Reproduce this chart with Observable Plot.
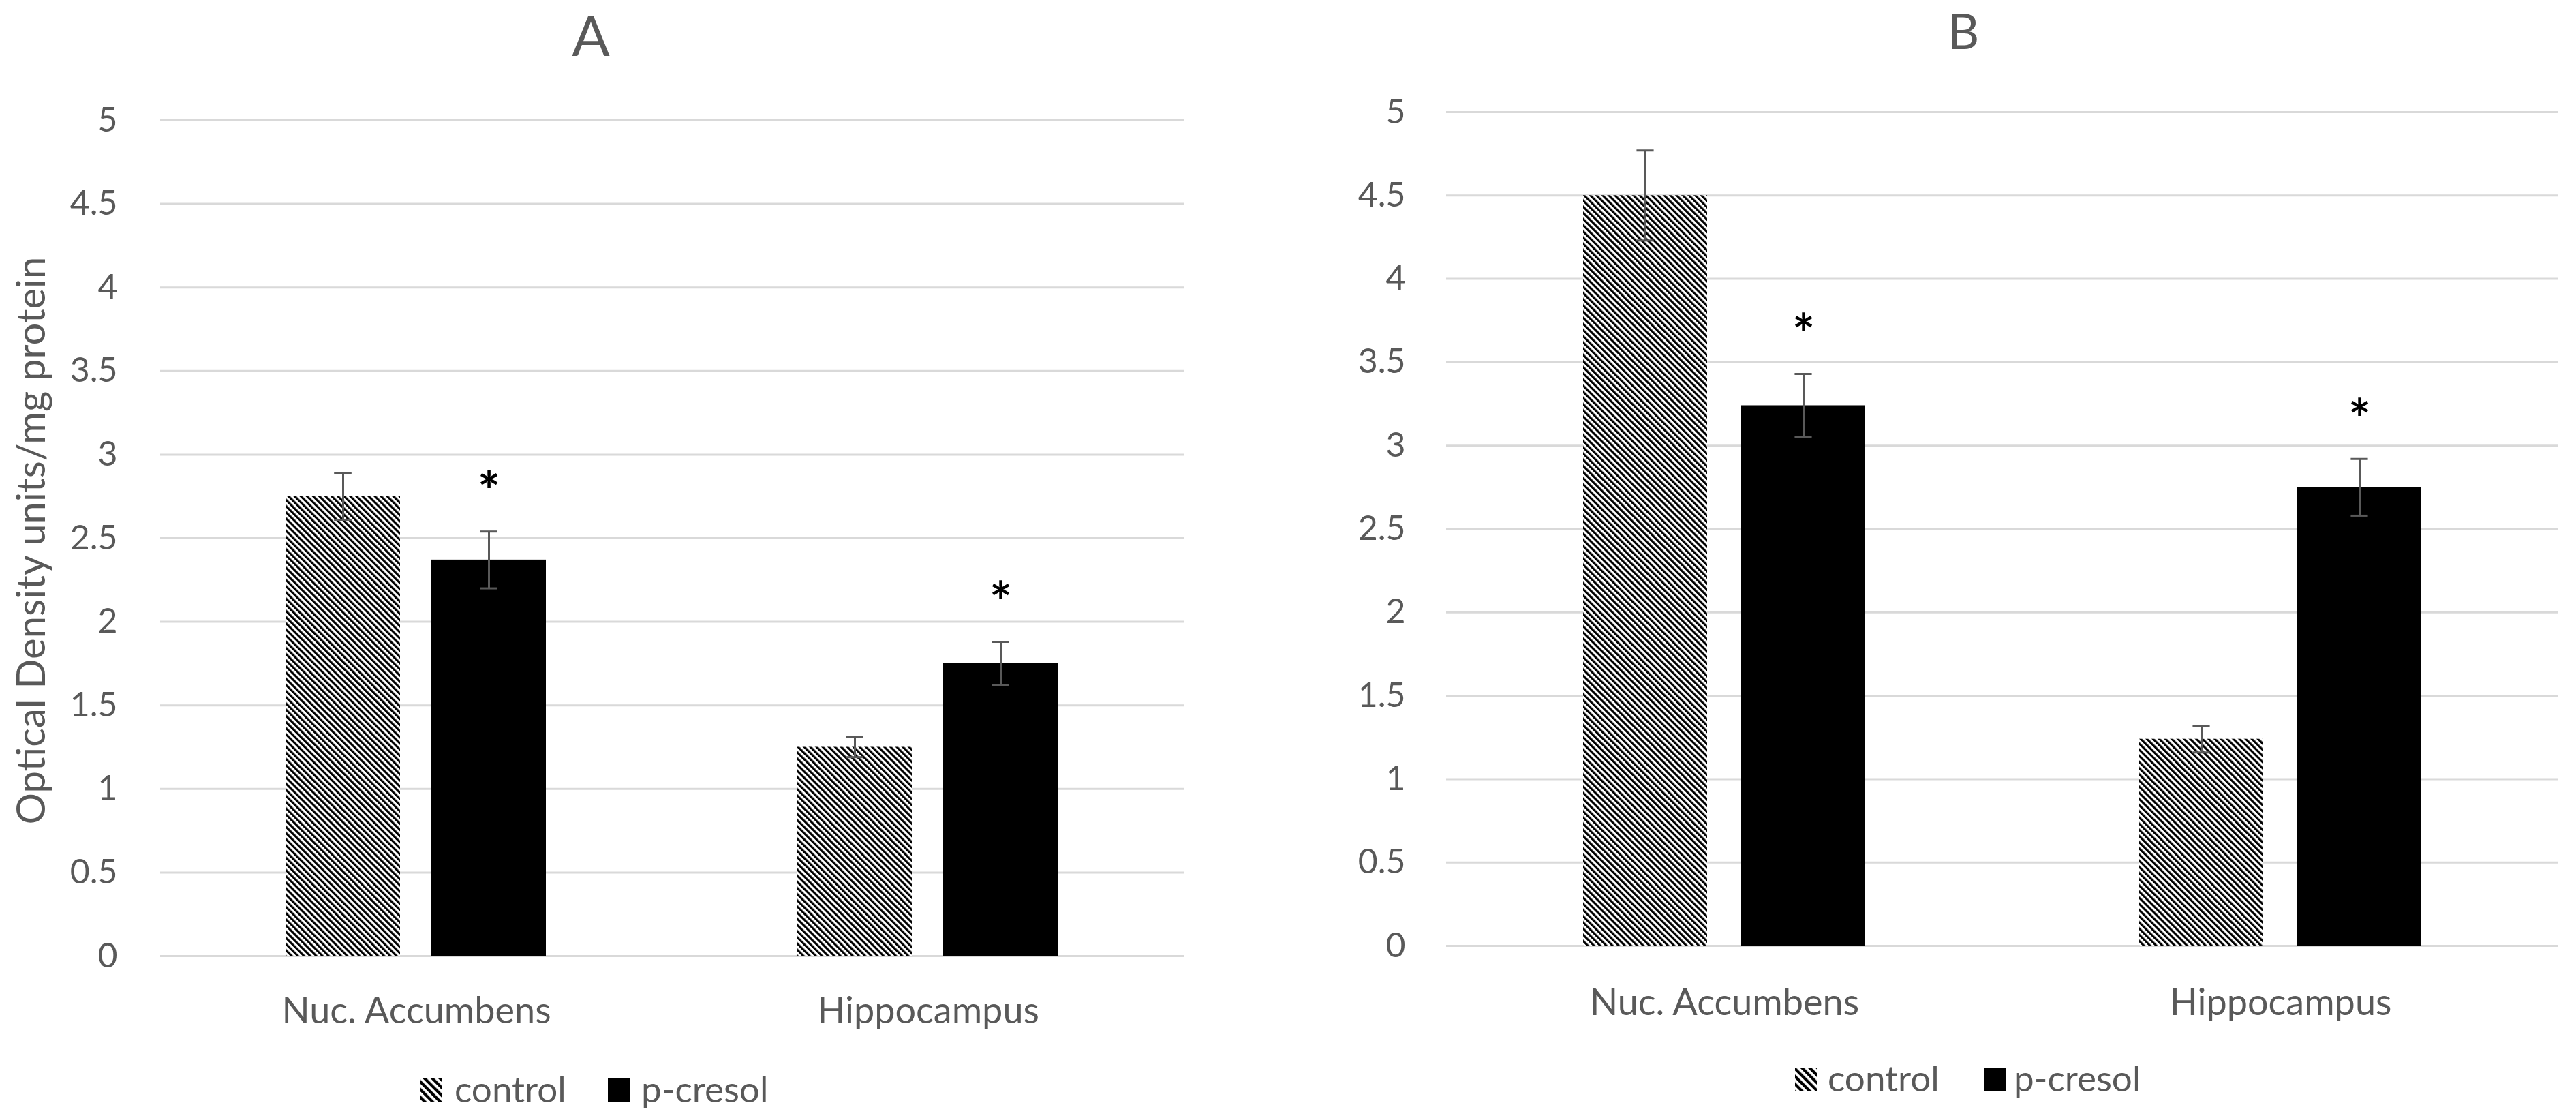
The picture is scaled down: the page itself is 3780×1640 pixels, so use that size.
<!DOCTYPE html>
<html><head><meta charset="utf-8">
<script src="https://cdn.jsdelivr.net/npm/d3@7"></script>
<script src="https://cdn.jsdelivr.net/npm/@observablehq/plot@0.6"></script>
<style>
html,body{margin:0;padding:0;background:#fff;}
#page{position:relative;width:3780px;height:1640px;overflow:hidden;background:#fff;font-family:Lato,sans-serif;}
#page > svg{position:absolute;top:0;}
</style></head><body>
<svg width="0" height="0" style="position:absolute">
<defs>
<pattern id="hatch" patternUnits="userSpaceOnUse" width="6.4" height="6.4" patternTransform="rotate(-45)">
<rect width="6.4" height="6.4" fill="#fff"/><rect width="3.2" height="6.4" fill="#000"/>
</pattern>
<pattern id="hatchLegend" patternUnits="userSpaceOnUse" width="8" height="8" patternTransform="rotate(-45)">
<rect width="8" height="8" fill="#fff"/><rect width="4.2" height="8" fill="#000"/>
</pattern></defs></svg>
<div id="page"></div>
<script>
// ---- data ----
const categories = ["Nuc. Accumbens", "Hippocampus"];
const seriesNames = ["control", "p-cresol"];
const yTicks = [0, 0.5, 1, 1.5, 2, 2.5, 3, 3.5, 4, 4.5, 5];
const panelTitles = ["A", "B"];
const yLabel = "Optical Density units/mg protein";

const controlMeanA = [2.75, 1.25];
const controlSeA   = [0.14, 0.06];
const pcresolMeanA = [2.37, 1.75];
const pcresolSeA   = [0.17, 0.13];
const pcresolSigA  = [true, true];

const controlMeanB = [4.50, 1.24];
const controlSeB   = [0.27, 0.08];
const pcresolMeanB = [3.24, 2.75];
const pcresolSeB   = [0.19, 0.17];
const pcresolSigB  = [true, true];

function rows(cm, cs, pm, ps, sig) {
  const out = [];
  categories.forEach((c, i) => {
    out.push({region: c, series: seriesNames[0], mean: cm[i], se: cs[i], sig: false});
    out.push({region: c, series: seriesNames[1], mean: pm[i], se: ps[i], sig: sig[i]});
  });
  return out;
}
const dataA = rows(controlMeanA, controlSeA, pcresolMeanA, pcresolSeA, pcresolSigA);
const dataB = rows(controlMeanB, controlSeB, pcresolMeanB, pcresolSeB, pcresolSigB);

const textColor = "#595959";

function panel(cfg) {
  const data = cfg.data;
  const plotW = cfg.width - cfg.marginLeft - cfg.marginRight;
  const pIn = 0.214, pOut = 0.861;
  const bandW = (plotW / categories.length) * (1 - pIn) / (2 - pIn + 2 * pOut);
  const capInset = (bandW - 26) / 2;
  const hi = d => d.mean + d.se, lo = d => d.mean - d.se;
  const errStyle = {stroke: "#595959", strokeWidth: 3};
  return Plot.plot({
    width: cfg.width, height: cfg.height,
    marginLeft: cfg.marginLeft, marginRight: cfg.marginRight,
    marginTop: cfg.marginTop, marginBottom: cfg.marginBottom,
    style: {fontFamily: "Lato, sans-serif", fontSize: "50px", color: textColor, background: "transparent", overflow: "visible"},
    fx: {domain: categories, padding: 0, axis: null, label: null},
    x: {domain: seriesNames, paddingInner: pIn, paddingOuter: pOut, axis: null},
    y: {domain: [0, 5], axis: null},
    color: {domain: seriesNames, range: ["url(#hatch)", "#000000"]},
    marks: [
      Plot.ruleY(yTicks, {stroke: "#d9d9d9", strokeWidth: 3}),
      Plot.axisY(yTicks, {tickSize: 0, tickPadding: cfg.tickPadding, tickFormat: d => String(d), fontSize: 50, label: null, fill: textColor}),
      Plot.axisFx({anchor: "bottom", tickSize: 0, tickPadding: cfg.catPadding, fontSize: 54, label: null, fill: textColor}),
      Plot.barY(data, {fx: "region", x: "series", y: "mean", fill: "series"}),
      Plot.ruleX(data, {fx: "region", x: "series", y1: lo, y2: hi, ...errStyle}),
      Plot.tickY(data, {fx: "region", x: "series", y: hi, inset: capInset, ...errStyle}),
      Plot.tickY(data, {fx: "region", x: "series", y: lo, inset: capInset, ...errStyle}),
      Plot.text(data.filter(d => d.sig), {fx: "region", x: "series", y: d => hi(d) + 0.3, text: () => "*",
        fontSize: 78, fontWeight: "bold", fill: "#000", dy: 18})
    ]
  });
}

const page = document.getElementById("page");
const svgA = panel({data: dataA, width: 1790, height: 1540, marginLeft: 234, marginRight: 53, marginTop: 176, marginBottom: 138, tickPadding: 63, catPadding: 60});
svgA.style.left = "0px";
page.appendChild(svgA);
const svgB = panel({data: dataB, width: 1880, height: 1540, marginLeft: 222, marginRight: 26, marginTop: 164, marginBottom: 153, tickPadding: 60, catPadding: 63});
svgB.style.left = "1900px";
page.appendChild(svgB);

// ---- overlay: titles, y label, legends ----
const ov = d3.create("svg").attr("width", 3780).attr("height", 1640)
  .style("position", "absolute").style("left", "0px").style("top", "0px")
  .attr("font-family", "Lato, sans-serif").attr("fill", textColor);
ov.append("text").attr("x", 867).attr("y", 82).attr("text-anchor", "middle").attr("font-size", 82).text(panelTitles[0]);
ov.append("text").attr("x", 2881).attr("y", 72).attr("text-anchor", "middle").attr("font-size", 72).text(panelTitles[1]);
ov.append("text").attr("transform", "translate(66,793) rotate(-90)").attr("text-anchor", "middle")
  .attr("font-size", 58).text(yLabel);

function legend(yTop, xs) {
  const g = ov.append("g");
  g.append("rect").attr("x", xs[0]).attr("y", yTop).attr("width", 32).attr("height", 35).attr("fill", "url(#hatchLegend)");
  g.append("text").attr("x", xs[1]).attr("y", yTop + 35).attr("font-size", 53).text(seriesNames[0]);
  g.append("rect").attr("x", xs[2]).attr("y", yTop).attr("width", 32).attr("height", 35).attr("fill", "#000");
  g.append("text").attr("x", xs[3]).attr("y", yTop + 35).attr("font-size", 53).text(seriesNames[1]);
}
legend(1582, [617, 667, 892, 941]);
legend(1566, [2634, 2682, 2911, 2955]);

page.appendChild(ov.node());
</script>
</body></html>
